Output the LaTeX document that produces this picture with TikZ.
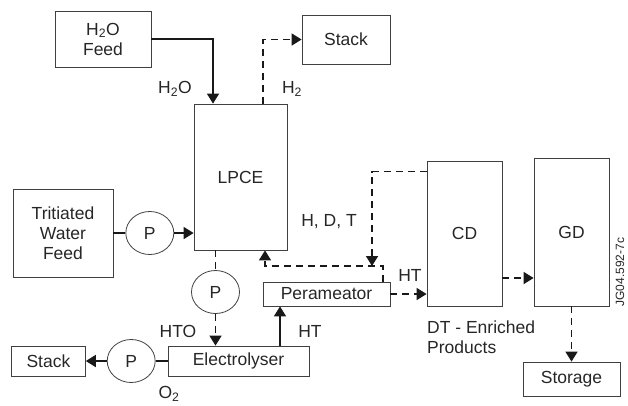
\documentclass[tikz,border=0pt]{standalone}
\usepackage{fontspec}
\setmainfont{Liberation Sans}
\usetikzlibrary{arrows.meta,positioning,shapes.geometric}

\begin{document}
\begin{tikzpicture}[x=1pt, y=-1pt,
  font=\fontsize{17.5}{20}\selectfont, >={Triangle[length=10pt,width=12pt]}, node distance=12pt,
  b/.style={draw=black!75, line width=0.8pt, align=center, inner sep=0pt, text=black!85},
  pump/.style={b, ellipse, minimum width=48pt, minimum height=43pt},
  lab/.style={inner sep=0pt, text=black!85},
  flow/.style={line width=1.6pt, black!90}, gas/.style={flow, dash pattern=on 7pt off 5pt}]
\useasboundingbox (0,0) rectangle (628,405);
\node[b, minimum width=96pt, minimum height=56pt] (feed) at (103,39) {H\textsubscript{2}O\\Feed};
\node[b, minimum width=88pt, minimum height=49pt] (stk1) at (346,39.5) {Stack};
\node[b, minimum width=93pt, minimum height=146pt] (lpce) at (240.5,177) {LPCE};
\node[b, minimum width=100pt, minimum height=88pt] (twf) at (63,233) {Tritiated\\Water\\Feed};
\node[pump, right=of twf] (p1) {P};
\node[pump] (p2) at (215.5,292) {P};
\node[b, minimum width=141pt, minimum height=30pt] (elec) at (238.5,361) {Electrolyser};
\node[pump, left=of elec] (p3) {P};
\node[b, minimum width=74pt, minimum height=30pt, left=21pt of p3] (stk2) {Stack};
\node[b, minimum width=127pt, minimum height=24pt] (perm) at (326.5,294) {Perameator};
\node[b, minimum width=75pt, minimum height=145pt] (cd) at (464.5,233.5) {CD};
\node[b, minimum width=75pt, minimum height=148pt] (gd) at (571.5,232) {GD};
\node[b, minimum width=97pt, minimum height=34pt] (stor) at (571.5,379) {Storage};
% labels
\node[lab] (l1) at (175,89) {H\textsubscript{2}O};
\node[lab] (l2) at (292,89) {H\textsubscript{2}};
\node[lab] (l3) at (329,222) {H, D, T};
\node[lab] (l4) at (410,275) {HT};
\node[lab] (l5) at (310,331) {HT};
\node[lab] (l6) at (178,331) {HTO};
\node[lab] (l7) at (169,394) {O\textsubscript{2}};
\node[lab, anchor=west, align=left] (l8) at (427,337) {DT - Enriched\\Products};
\node[lab, rotate=90, font=\fontsize{12}{14}\selectfont] (l9) at (620,272) {JG04.592-7c};
\coordinate (ret) at (265,266);
\coordinate (hdt) at (372,266);
% flows
\draw[flow, ->] (feed.east) -| ([xshift=-27.5pt]lpce.north);
\draw[gas, ->] ([xshift=22.5pt]lpce.north) |- (stk1);
\draw[flow] (twf) -- (p1);
\draw[flow, ->] (p1) -- (p1 -| lpce.west);
\draw[gas] (p2.north |- lpce.south) -- (p2.north);
\draw[gas, ->] (p2.south) -- (p2.south |- elec.north);
\draw[flow] (elec) -- (p3);
\draw[flow, ->] (p3) -- (stk2);
\draw[flow, ->] ([xshift=41.5pt]elec.north) -- ([xshift=41.5pt]elec.north |- perm.south);
\draw[gas, ->] ([xshift=56.5pt]perm.north) |- (ret) -- (ret |- lpce.south);
\draw[gas, ->] ([yshift=-11pt]cd.north west) -| (hdt);
\draw[gas, ->] (perm) -- (perm -| cd.west);
\draw[gas, ->] ([yshift=-44.5pt]cd.east) -- ([yshift=-44.5pt]cd.east -| gd.west);
\draw[gas, ->] (gd) -- (stor);
\end{tikzpicture}
\end{document}
